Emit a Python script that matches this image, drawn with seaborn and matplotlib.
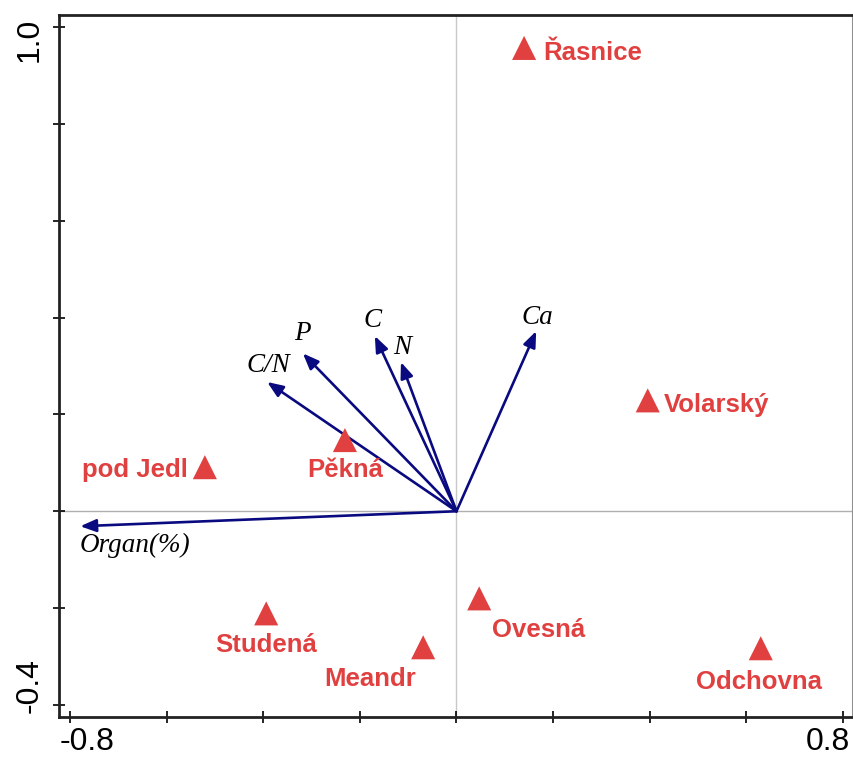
import pandas as pd
import matplotlib.pyplot as plt
import matplotlib.transforms as mtrans
import seaborn as sns

# lokality (trojúhelníky)
sites = ['Řasnice', 'Volarský', 'Pěkná', 'pod Jedl', 'Studená', 'Meandr', 'Ovesná', 'Odchovna']
site_x = [0.140, 0.396, -0.231, -0.521, -0.394, -0.069, 0.047, 0.630]
site_y = [0.957, 0.229, 0.147, 0.091, -0.211, -0.281, -0.180, -0.283]

# proměnné prostředí (šipky)
env_vars = ['Organ(%)', 'C/N', 'P', 'C', 'N', 'Ca']
env_x = [-0.779, -0.392, -0.318, -0.169, -0.115, 0.165]
env_y = [-0.031, 0.267, 0.326, 0.362, 0.308, 0.372]

# popisky: posun v pixelech + zarovnání
site_off = [(19, -5, 'left'), (16, -5, 'left'), (0, -30, 'center'), (-17, -3, 'right'),
            (0, -32, 'center'), (-53, -32, 'center'), (59, -32, 'center'), (-2, -34, 'center')]
env_lab = [(-0.665, -0.070), (-0.390, 0.302), (-0.318, 0.368), (-0.173, 0.395),
           (-0.113, 0.339), (0.167, 0.400)]

red = '#e04040'
navy = '#0a0a80'

df = pd.DataFrame({'site': sites, 'x': site_x, 'y': site_y})

sns.set_style('white')
fig = plt.figure(figsize=(8.54, 7.6), dpi=100)
ax = fig.add_axes([59 / 854, 1 - 717 / 760, (853 - 59) / 854, (717 - 15) / 760])

ax.set_xlim(-0.823, 0.821)
ax.set_ylim(-0.425, 1.025)

ax.axhline(0, color='#b0b0b0', lw=1, zorder=0)
ax.axvline(0, color='#c8c8c8', lw=1, zorder=0)

# šipky
for name, ex, ey, (lx, ly) in zip(env_vars, env_x, env_y, env_lab):
    ax.annotate('', xy=(ex, ey), xytext=(0, 0),
                arrowprops=dict(arrowstyle='-|>,head_length=0.95,head_width=0.38',
                                color=navy, lw=1.9, shrinkA=0, shrinkB=0))
    ax.text(lx, ly, name, fontsize=19.5, style='italic', family='Liberation Serif',
            ha='center', va='center', color='black')

sns.scatterplot(data=df, x='x', y='y', marker='^', s=300, color=red,
                edgecolor='none', ax=ax, zorder=3)

for name, sx, sy, (dx, dy, ha) in zip(sites, site_x, site_y, site_off):
    ax.annotate(name, xy=(sx, sy), xytext=(dx, dy), textcoords='offset pixels',
                ha=ha, va='center', color=red, fontsize=18.5, fontweight='bold',
                family='Liberation Sans')

ax.set_xlabel('')
ax.set_ylabel('')
ax.set_xticks([-0.8, -0.6, -0.4, -0.2, 0, 0.2, 0.4, 0.6, 0.8])
ax.set_xticklabels(['-0.8', '', '', '', '', '', '', '', '0.8'])
ax.set_yticks([-0.4, -0.2, 0, 0.2, 0.4, 0.6, 0.8, 1.0])
ax.set_yticklabels(['-0.4', '', '', '', '', '', '', '1.0'])
ax.tick_params(direction='inout', length=8, width=1.2, color='black',
               labelcolor='black', labelsize=23, bottom=True, left=True)
ax.tick_params(axis='x', pad=3)
ax.tick_params(axis='y', pad=6)
for lab in ax.get_xticklabels() + ax.get_yticklabels():
    lab.set_family('Liberation Sans')

# krajní popisky os zarovnané dovnitř
xl = ax.get_xticklabels()
xl[0].set_ha('left')
xl[0].set_transform(xl[0].get_transform() + mtrans.ScaledTranslation(-0.10, 0, fig.dpi_scale_trans))
xl[-1].set_ha('right')
xl[-1].set_transform(xl[-1].get_transform() + mtrans.ScaledTranslation(0.07, 0, fig.dpi_scale_trans))
yl = ax.get_yticklabels()
for lab in yl:
    lab.set_rotation(90)
yl[0].set_va('bottom')
yl[0].set_transform(yl[0].get_transform() + mtrans.ScaledTranslation(0, -0.08, fig.dpi_scale_trans))
yl[-1].set_va('top')
yl[-1].set_transform(yl[-1].get_transform() + mtrans.ScaledTranslation(0, 0.09, fig.dpi_scale_trans))

for side in ['left', 'bottom', 'top']:
    ax.spines[side].set_color('#222222')
    ax.spines[side].set_linewidth(2)
ax.spines['right'].set_color('#909090')
ax.spines['right'].set_linewidth(1.5)

fig.savefig('out.png', dpi=100)
